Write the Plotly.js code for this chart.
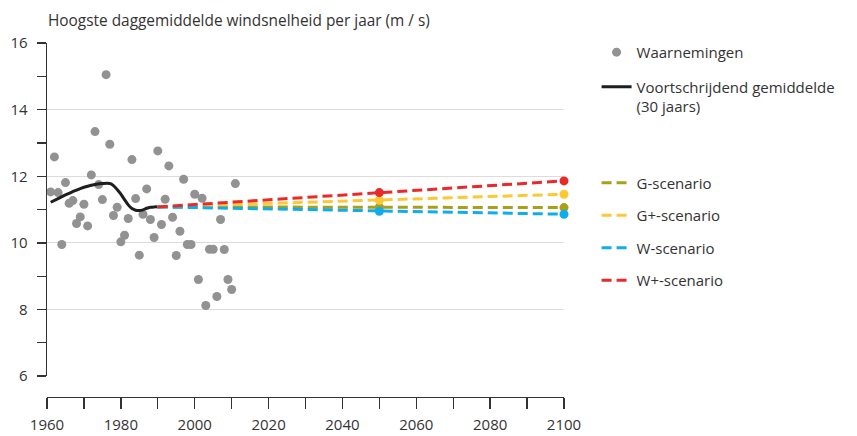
<!DOCTYPE html>
<html>
<head>
<meta charset="utf-8">
<script src="https://cdn.plot.ly/plotly-3.0.1.min.js"></script>
<style>html,body{margin:0;padding:0;background:#fff;}#chart{width:857px;height:436px;}</style>
</head>
<body>
<div id="chart"></div>
<script>
// Observations (annual max daily-mean wind speed, m/s)
const obsYears = [1961,1962,1963,1964,1965,1966,1967,1968,1969,1970,
                  1971,1972,1973,1974,1975,1976,1977,1978,1979,1980,
                  1981,1982,1983,1984,1985,1986,1987,1988,1989,1990,
                  1991,1992,1993,1994,1995,1996,1997,1998,1999,2000,
                  2001,2002,2003,2004,2005,2006,2007,2008,2009,2010,2011];
const obsValues = [11.53,12.58,11.51,9.95,11.81,11.19,11.27,10.58,10.78,11.16,
                   10.51,12.04,13.34,11.75,11.30,15.05,12.96,10.82,11.07,10.03,
                   10.23,10.73,12.50,11.33,9.63,10.86,11.62,10.70,10.16,12.76,
                   10.55,11.31,12.31,10.77,9.62,10.35,11.91,9.95,9.95,11.46,
                   8.90,11.34,8.12,9.81,9.81,8.39,10.70,9.80,8.90,8.60,11.78];

// 30-year moving average (smoothed curve)
const maYears  = [1961,1963,1965,1967,1969,1971,1973,1975,1977,1978,1979,1980,1981,1982,1983,1984,1985,1986,1987,1988,1989,1990];
const maValues = [11.22,11.33,11.44,11.54,11.63,11.70,11.75,11.78,11.78,11.72,11.60,11.46,11.30,11.14,11.03,10.98,10.97,10.99,11.04,11.07,11.08,11.08];

// Scenarios
const scenYears = [1990, 2050, 2100];
const scenNames = ["G-scenario", "G+-scenario", "W-scenario", "W+-scenario"];
const scenG   = [11.08, 11.07, 11.06];
const scenGp  = [11.08, 11.28, 11.46];
const scenW   = [11.08, 10.95, 10.86];
const scenWp  = [11.08, 11.51, 11.86];
const scenColors = ["#a9a01a", "#fcc934", "#0fadec", "#ea2a2a"];

// Texts
const titleText = "Hoogste daggemiddelde windsnelheid per jaar (m / s)";
const obsName = "Waarnemingen";
const maName = "Voortschrijdend gemiddelde<br>(30 jaars)";

const FONT = "'Open Sans', 'Noto Sans', sans-serif";
const scenData = [scenG, scenGp, scenW, scenWp];

const traces = [];
traces.push({
  x: obsYears, y: obsValues, type: 'scatter', mode: 'markers', name: obsName,
  marker: {color: '#929292', size: 9}, legend: 'legend', legendgroup: 'a', cliponaxis: false
});
traces.push({
  x: maYears, y: maValues, type: 'scatter', mode: 'lines', name: maName,
  line: {color: '#1e1e1e', width: 3, shape: 'spline', smoothing: 1}, legend: 'legend', legendgroup: 'b'
});
scenData.forEach((vals, i) => {
  traces.push({
    x: scenYears, y: vals, type: 'scatter', mode: 'lines', name: scenNames[i],
    line: {color: scenColors[i], width: 3, dash: '10px,5px'}, legend: 'legend2', legendgroup: 's' + i,
    cliponaxis: false
  });
});
scenData.forEach((vals, i) => {
  traces.push({
    x: scenYears.slice(1), y: vals.slice(1), type: 'scatter', mode: 'markers', showlegend: false,
    marker: {color: scenColors[i], size: 9}, cliponaxis: false
  });
});

const legendCommon = {
  font: {family: FONT, size: 15, color: '#333'},
  bgcolor: 'rgba(0,0,0,0)', xanchor: 'left', yanchor: 'top', valign: 'top',
  traceorder: 'grouped'
};

const layout = {
  width: 857, height: 436,
  margin: {l: 47, r: 293, t: 43, b: 39, pad: 0},
  paper_bgcolor: '#fff', plot_bgcolor: '#fff',
  font: {family: FONT, size: 15, color: '#333'},
  title: {text: titleText, font: {family: FONT, size: 15.4, color: '#333'},
          xref: 'container', x: 48/857, xanchor: 'left', yref: 'container', y: 1 - 21/436, yanchor: 'middle'},
  xaxis: {
    range: [1960, 2100], anchor: 'free', position: 0,
    showline: true, linecolor: '#333', linewidth: 1.3,
    ticks: 'outside', ticklen: 11, tickcolor: '#333', tickwidth: 1.3,
    tick0: 1960, dtick: 20, showgrid: false, zeroline: false,
    minor: {dtick: 10, ticks: 'outside', ticklen: 11, tickcolor: '#333', tickwidth: 1.3, showgrid: false},
    tickfont: {family: FONT, size: 15, color: '#333'}, ticklabelstandoff: 3, fixedrange: true
  },
  yaxis: {
    range: [6, 16], domain: [0.059, 1],
    showline: true, linecolor: '#333', linewidth: 1.3,
    ticks: 'outside', ticklen: 9, tickcolor: '#333', tickwidth: 1.3,
    tick0: 6, dtick: 2, showgrid: true, gridcolor: '#dcdcdc', gridwidth: 1, zeroline: false,
    minor: {dtick: 1, ticks: 'outside', ticklen: 9, tickcolor: '#333', tickwidth: 1.3, showgrid: false},
    tickfont: {family: FONT, size: 15, color: '#333'}, ticklabelstandoff: 6, fixedrange: true
  },
  showlegend: true,
  legend: Object.assign({}, legendCommon, {x: 1.063, y: 1.02, tracegroupgap: 12}),
  legend2: Object.assign({}, legendCommon, {x: 1.063, y: 0.651, tracegroupgap: 10})
};

Plotly.newPlot('chart', traces, layout, {displayModeBar: false, staticPlot: true});
</script>
</body>
</html>
